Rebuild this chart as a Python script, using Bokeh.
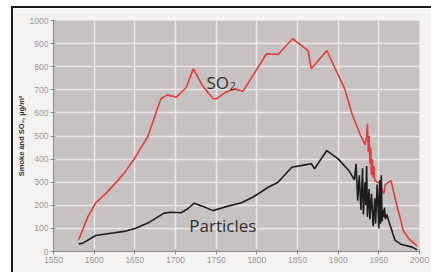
from bokeh.plotting import figure
from bokeh.models import Label, FixedTicker
from bokeh.embed import file_html
from bokeh.resources import INLINE

# ---- data ----
so2_year = [1581, 1592, 1602, 1616, 1636, 1649, 1666, 1682, 1690, 1701, 1713, 1722, 1733,
            1746, 1750, 1762, 1773, 1783, 1812, 1826, 1844, 1863, 1867, 1886, 1908, 1917,
            1928, 1931, 1933, 1935, 1936, 1937, 1938, 1939, 1940, 1941, 1942, 1943, 1944,
            1945, 1948, 1952, 1954, 1956, 1958, 1962, 1965, 1972, 1976, 1980, 1987, 1993, 1997]
so2_val = [51, 149, 211, 257, 335, 400, 498, 661, 678, 668, 709, 791, 719,
           662, 661, 690, 704, 694, 856, 853, 921, 870, 791, 870, 704, 596,
           498, 480, 462, 500, 553, 430, 500, 380, 450, 330, 400, 320, 370,
           307, 300, 298, 264, 250, 290, 300, 307, 200, 149, 91, 55, 36, 24]

smoke_year = [1581, 1586, 1602, 1616, 1637, 1651, 1666, 1686, 1694, 1707, 1715, 1723, 1734,
              1746, 1760, 1781, 1795, 1814, 1826, 1843, 1859, 1867, 1871, 1886, 1900, 1913,
              1920, 1922, 1924, 1926, 1928, 1930, 1931, 1933, 1934, 1935, 1936, 1938, 1939,
              1941, 1943, 1945, 1946, 1948, 1950, 1951, 1952, 1953, 1954, 1955, 1956, 1957,
              1958, 1960, 1962, 1966, 1970, 1978, 1991, 1997]
smoke_val = [33, 36, 69, 77, 87, 101, 123, 166, 170, 168, 185, 209, 195,
             177, 192, 211, 235, 278, 300, 365, 375, 380, 358, 437, 401, 351,
             310, 380, 220, 330, 180, 360, 160, 300, 200, 370, 150, 270, 140,
             250, 110, 230, 120, 290, 100, 310, 120, 330, 130, 180, 150, 190,
             140, 160, 134, 91, 48, 30, 19, 7]

x_ticks = list(range(1550, 2001, 50))
y_ticks = list(range(0, 1001, 100))

p = figure(output_backend="svg", toolbar_location=None,
           x_range=(1550, 2000), y_range=(0, 1000),
           min_border_left=40, min_border_right=12, min_border_top=12, min_border_bottom=21,
           frame_width=366, frame_height=231,
           styles={"border-top": "2px solid #1a1a1a", "border-left": "2px solid #1a1a1a",
                   "margin-left": "11px", "margin-top": "6px"})
p.background_fill_color = "#c6c2c2"
p.border_fill_color = "#f5f2f2"
p.outline_line_color = None

for ax in (p.xaxis[0], p.yaxis[0]):
    ax.axis_line_color = "#8a8a8a"
    ax.major_tick_line_color = "#8a8a8a"
    ax.major_tick_out = 3
    ax.major_tick_in = 2
    ax.minor_tick_line_color = None
    ax.major_label_text_font = "Liberation Sans"
    ax.major_label_text_font_size = "8.5px"
    ax.major_label_text_color = "#9a9a9a"
    ax.major_label_standoff = 2
p.xaxis.ticker = FixedTicker(ticks=x_ticks)
p.yaxis.ticker = FixedTicker(ticks=y_ticks)
p.yaxis.axis_label = "Smoke and SO₂, µg/m³"
p.yaxis.axis_label_text_font = "Liberation Sans"
p.yaxis.axis_label_text_font_style = "bold"
p.yaxis.axis_label_text_font_size = "7.5px"
p.yaxis.axis_label_text_color = "#333333"
p.yaxis.axis_label_standoff = 1

p.xgrid.grid_line_color = "#ebe7e7"
p.ygrid.grid_line_color = "#ebe7e7"
p.xgrid.grid_line_width = 1.5
p.ygrid.grid_line_width = 1.5
p.xgrid.ticker = FixedTicker(ticks=x_ticks)
p.ygrid.ticker = FixedTicker(ticks=y_ticks)

p.line(so2_year, so2_val, line_color="#e8393c", line_width=1.6)
p.line(smoke_year, smoke_val, line_color="#1c1c1c", line_width=1.6)

p.add_layout(Label(x=1738, y=731, text="SO", text_font="Open Sans", text_font_size="17px",
                   text_color="#303030", text_baseline="alphabetic"))
p.add_layout(Label(x=1738 + 28.5, y=716, text="2", text_font="Open Sans", text_font_size="11px",
                   text_color="#303030", text_baseline="alphabetic"))
p.add_layout(Label(x=1717, y=112, text="Particles", text_font="Open Sans", text_font_size="17px",
                   text_color="#303030", text_baseline="alphabetic"))

open("out.html", "w").write(file_html(p, INLINE))
